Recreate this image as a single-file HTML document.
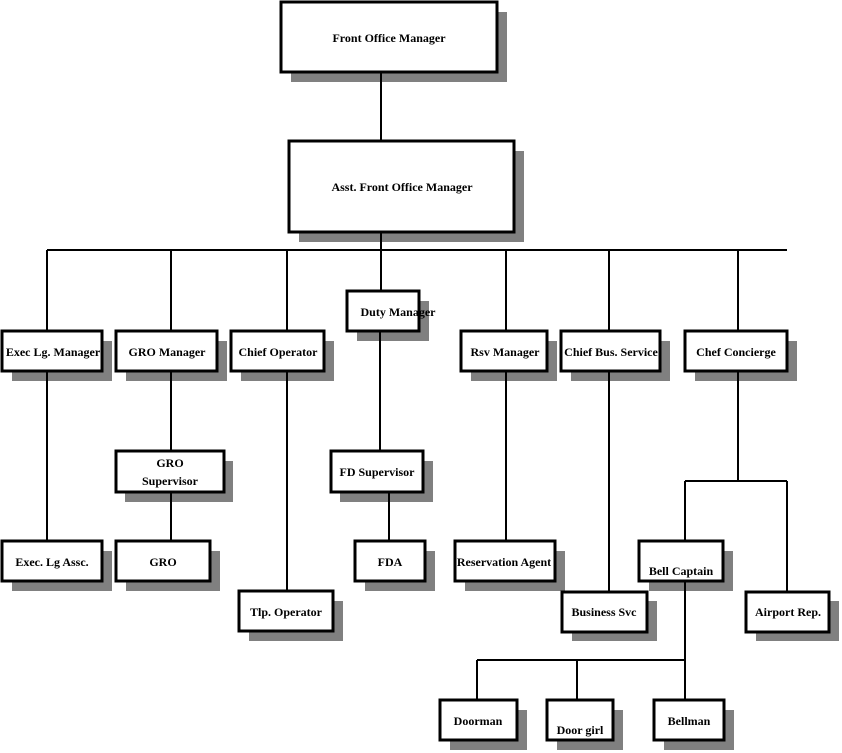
<!DOCTYPE html>
<html><head><meta charset="utf-8"><style>
html,body{margin:0;padding:0;background:#fff;width:842px;height:753px;overflow:hidden}
text{font-family:"Liberation Serif",serif;font-weight:bold;font-size:12px;fill:#000;text-anchor:middle}
</style></head><body>
<svg width="842" height="753" viewBox="0 0 842 753" xmlns="http://www.w3.org/2000/svg">
<g fill="#808080">
<rect x="291" y="12" width="216" height="70"/>
<rect x="299" y="151" width="225" height="91"/>
<rect x="357" y="301" width="72" height="40"/>
<rect x="12" y="341" width="100" height="40"/>
<rect x="126" y="341" width="101" height="40"/>
<rect x="241" y="341" width="93" height="40"/>
<rect x="471" y="341" width="86" height="40"/>
<rect x="571" y="341" width="99" height="40"/>
<rect x="695" y="341" width="102" height="40"/>
<rect x="125" y="461" width="108" height="41"/>
<rect x="340" y="461" width="93" height="41"/>
<rect x="12" y="551" width="100" height="40"/>
<rect x="126" y="551" width="94" height="40"/>
<rect x="365" y="551" width="70" height="40"/>
<rect x="465" y="551" width="100" height="40"/>
<rect x="649" y="551" width="84" height="40"/>
<rect x="249" y="601" width="94" height="40"/>
<rect x="572" y="601" width="85" height="40"/>
<rect x="756" y="601" width="83" height="40"/>
<rect x="450" y="710" width="77" height="40"/>
<rect x="557" y="710" width="66" height="40"/>
<rect x="664" y="710" width="70" height="40"/>
</g>
<g stroke="#000" stroke-width="2" fill="none">
<line x1="381" y1="72" x2="381" y2="141"/>
<line x1="381" y1="232" x2="381" y2="291"/>
<line x1="47" y1="250" x2="787" y2="250"/>
<line x1="47" y1="250" x2="47" y2="331"/>
<line x1="171" y1="250" x2="171" y2="331"/>
<line x1="287" y1="250" x2="287" y2="331"/>
<line x1="506" y1="250" x2="506" y2="331"/>
<line x1="609" y1="250" x2="609" y2="331"/>
<line x1="738" y1="250" x2="738" y2="331"/>
<line x1="47" y1="371" x2="47" y2="541"/>
<line x1="171" y1="371" x2="171" y2="451"/>
<line x1="171" y1="492" x2="171" y2="541"/>
<line x1="287" y1="371" x2="287" y2="591"/>
<line x1="380" y1="331" x2="380" y2="451"/>
<line x1="389" y1="492" x2="389" y2="541"/>
<line x1="506" y1="371" x2="506" y2="541"/>
<line x1="609" y1="371" x2="609" y2="592"/>
<line x1="738" y1="371" x2="738" y2="481"/>
<line x1="685" y1="481" x2="787" y2="481"/>
<line x1="685" y1="481" x2="685" y2="541"/>
<line x1="787" y1="481" x2="787" y2="592"/>
<line x1="685" y1="581" x2="685" y2="700"/>
<line x1="477" y1="660" x2="685" y2="660"/>
<line x1="477" y1="660" x2="477" y2="700"/>
<line x1="577" y1="660" x2="577" y2="700"/>
</g>
<g fill="#fff" stroke="#000" stroke-width="3">
<rect x="281" y="2" width="216" height="70"/>
<rect x="289" y="141" width="225" height="91"/>
<rect x="347" y="291" width="72" height="40"/>
<rect x="2" y="331" width="100" height="40"/>
<rect x="116" y="331" width="101" height="40"/>
<rect x="231" y="331" width="93" height="40"/>
<rect x="461" y="331" width="86" height="40"/>
<rect x="561" y="331" width="99" height="40"/>
<rect x="685" y="331" width="102" height="40"/>
<rect x="116" y="451" width="108" height="41"/>
<rect x="331" y="451" width="92" height="41"/>
<rect x="2" y="541" width="100" height="40"/>
<rect x="116" y="541" width="94" height="40"/>
<rect x="355" y="541" width="70" height="40"/>
<rect x="455" y="541" width="100" height="40"/>
<rect x="639" y="541" width="84" height="40"/>
<rect x="239" y="591" width="94" height="40"/>
<rect x="562" y="592" width="85" height="40"/>
<rect x="746" y="592" width="83" height="40"/>
<rect x="440" y="700" width="77" height="40"/>
<rect x="547" y="700" width="66" height="40"/>
<rect x="654" y="700" width="70" height="40"/>
</g>
<text x="389" y="42">Front Office Manager</text>
<text x="402" y="191">Asst. Front Office Manager</text>
<text x="398" y="316">Duty Manager</text>
<text x="53" y="356">Exec Lg. Manager</text>
<text x="167" y="356">GRO Manager</text>
<text x="278" y="356">Chief Operator</text>
<text x="505" y="356">Rsv Manager</text>
<text x="611" y="356">Chief Bus. Service</text>
<text x="736" y="356">Chef Concierge</text>
<text x="170" y="467">GRO</text>
<text x="170" y="485">Supervisor</text>
<text x="377" y="476">FD Supervisor</text>
<text x="52" y="566">Exec. Lg Assc.</text>
<text x="163" y="566">GRO</text>
<text x="390" y="566">FDA</text>
<text x="504" y="566">Reservation Agent</text>
<text x="681" y="575">Bell Captain</text>
<text x="286" y="616">Tlp. Operator</text>
<text x="604" y="616">Business Svc</text>
<text x="788" y="616">Airport Rep.</text>
<text x="478" y="725">Doorman</text>
<text x="580" y="734">Door girl</text>
<text x="689" y="725">Bellman</text>
</svg>
</body></html>
